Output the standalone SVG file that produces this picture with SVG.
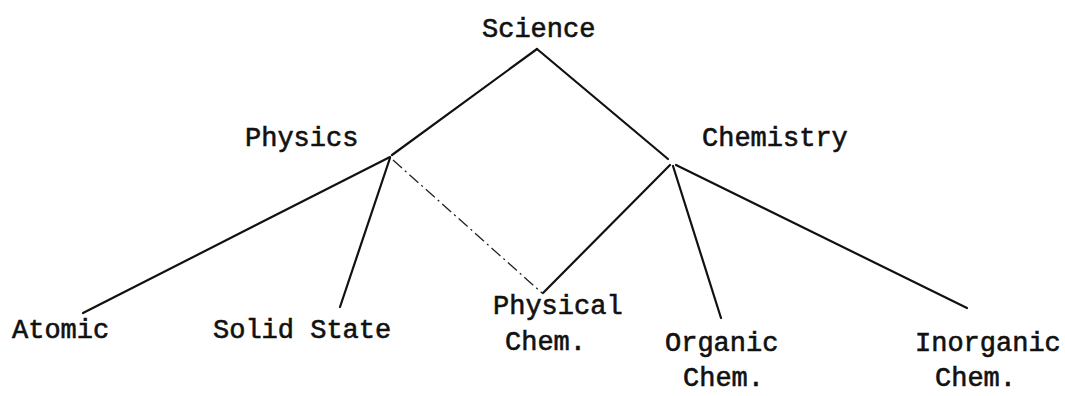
<svg xmlns="http://www.w3.org/2000/svg" width="1065" height="396" viewBox="0 0 1065 396">
<style>
text{font-family:"Liberation Mono","Courier New",monospace;font-size:27px;fill:#111;stroke:#111;stroke-width:0.6;}
.l{stroke:#111;stroke-width:2.2;fill:none;stroke-linecap:round;}
.d{stroke:#222;stroke-width:1.3;fill:none;stroke-dasharray:12 4 2 4;}
</style>
<rect width="1065" height="396" fill="#fff"/>
<g id="connectors">
<line class="l" x1="537" y1="49" x2="392" y2="155"/>
<line class="l" x1="537" y1="49" x2="668" y2="159"/>
<line class="l" x1="390" y1="157" x2="83" y2="313"/>
<line class="l" x1="390" y1="158" x2="340" y2="307"/>
<line class="d" x1="393" y1="160" x2="542" y2="293"/>
<line class="l" x1="670" y1="165" x2="543" y2="293"/>
<line class="l" x1="673" y1="166" x2="721" y2="318"/>
<line class="l" x1="676" y1="165" x2="967" y2="308"/>
</g>
<g id="science"><text x="482" y="37">Science</text></g>
<g id="physics"><text x="245" y="146">Physics</text></g>
<g id="chemistry"><text x="702" y="146">Chemistry</text></g>
<g id="atomic"><text x="12" y="338">Atomic</text></g>
<g id="solid-state"><text x="213" y="338">Solid State</text></g>
<g id="physical-chem"><text x="493" y="314">Physical</text><text x="505" y="350">Chem.</text></g>
<g id="organic-chem"><text x="665" y="351">Organic</text><text x="683" y="386">Chem.</text></g>
<g id="inorganic-chem"><text x="915" y="351">Inorganic</text><text x="935" y="386">Chem.</text></g>
</svg>
